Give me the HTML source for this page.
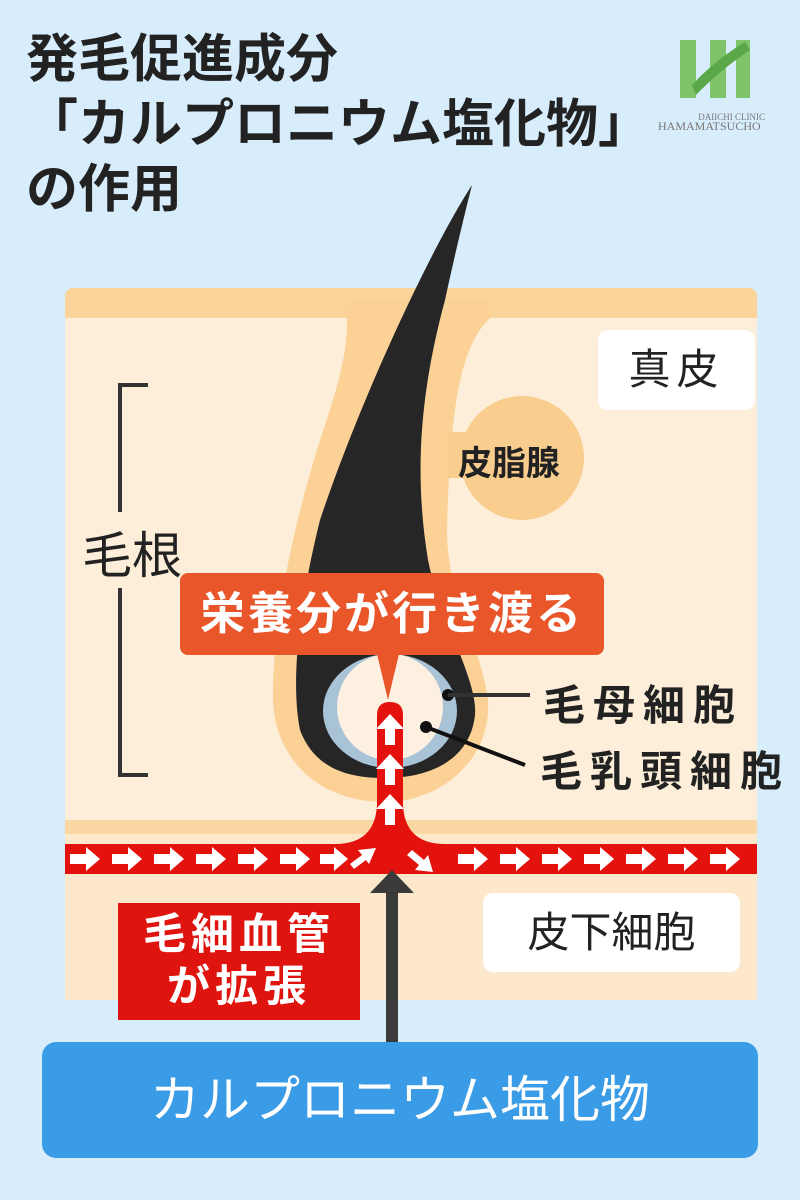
<!DOCTYPE html>
<html><head><meta charset="utf-8"><style>
html,body{margin:0;padding:0}
body{width:800px;height:1200px;background:#d8edfc;position:relative;overflow:hidden;font-family:"Liberation Sans","Noto Sans CJK JP",sans-serif}
.t{position:absolute;left:26px;top:28px;font-size:52px;line-height:65px;font-weight:bold;color:#222}
.abs{position:absolute;white-space:nowrap}
</style></head><body>
<svg class="abs" style="left:0;top:0" width="800" height="1200" viewBox="0 0 800 1200">
 <rect x="65" y="288" width="692" height="712" rx="8" fill="#fbd49a"/>
 <rect x="65" y="318" width="692" height="502" fill="#fdeed9"/>
 <rect x="65" y="832" width="692" height="168" fill="#fde8cc"/>
 <rect x="65" y="820" width="692" height="14" fill="#fbd7a4"/>
 <!-- follicle sheath -->
 <path d="M345 300 L490 300 L490 318 C 462 345, 450 400, 447 530 C 447 600, 480 640, 488 700 C 492 760, 440 802, 385 802 C 320 802, 275 760, 273 700 C 272 620, 295 520, 320 440 C 340 380, 352 340, 345 300 Z" fill="#fbd196"/>
 <circle cx="522" cy="458" r="62" fill="#f8cd8e"/>
 <rect x="447" y="432" width="25" height="46" fill="#f8cd8e"/>
 <!-- hair -->
 <path d="M472 185 C 430 250, 360 400, 320 520 C 300 600, 290 680, 300 730 C 315 770, 350 778, 385 778 C 430 778, 470 760, 475 715 C 478 680, 440 620, 428 560 C 415 480, 418 400, 445 300 Q 458 240 472 185 Z" fill="#262626"/>
 <ellipse cx="390" cy="711" rx="67" ry="57" fill="#a9c3d6"/>
 <ellipse cx="390" cy="707" rx="53" ry="53" fill="#fdf0e0"/>
 <circle cx="448" cy="695" r="6" fill="#111"/><line x1="448" y1="695" x2="530" y2="695" stroke="#333" stroke-width="4"/>
 <circle cx="426" cy="727" r="6" fill="#111"/><line x1="426" y1="727" x2="525" y2="765" stroke="#111" stroke-width="4"/>
 <path d="M148 385 L120 385 L120 775 L148 775" fill="none" stroke="#333" stroke-width="4"/>
 <rect x="80" y="512" width="120" height="76" fill="#fdeed9"/>
 <!-- capillary -->
 <rect x="65" y="844" width="692" height="30" fill="#e3120c"/>
 <path d="M377 715 Q377 702 390 702 Q403 702 403 715 L403 805 Q405 844 445 844 L445 874 Q410 874 390 862 Q370 874 335 874 L335 844 Q375 844 377 805 Z" fill="#e3120c"/>
 <g fill="#fff">
  <path d="M70 854h16v-7l14 12-14 12v-7h-16z M112 854h16v-7l14 12-14 12v-7h-16z M154 854h16v-7l14 12-14 12v-7h-16z M196 854h16v-7l14 12-14 12v-7h-16z M238 854h16v-7l14 12-14 12v-7h-16z M280 854h16v-7l14 12-14 12v-7h-16z M320 854h14v-7l14 12-14 12v-7h-14z"/>
  <path d="M458 854h16v-7l14 12-14 12v-7h-16z M500 854h16v-7l14 12-14 12v-7h-16z M542 854h16v-7l14 12-14 12v-7h-16z M584 854h16v-7l14 12-14 12v-7h-16z M626 854h16v-7l14 12-14 12v-7h-16z M668 854h16v-7l14 12-14 12v-7h-16z M710 854h16v-7l14 12-14 12v-7h-16z"/>
  <path d="M385 745v-16h-9l14-15 14 15h-9v16z M385 785v-16h-9l14-15 14 15h-9v16z M385 825v-16h-9l14-15 14 15h-9v16z"/>
  <path d="M350 864l12-9-4-5 18-2-7 16-3-4-12 9z"/>
  <path d="M412 850l12 10 4-5 5 17-18-2 4-5-12-10z"/>
 </g>
 <rect x="386" y="890" width="12" height="155" fill="#3a3a3a"/>
 <polygon points="370,893 392,870 414,893" fill="#3a3a3a"/>
 <rect x="180" y="573" width="424" height="82" rx="8" fill="#e8562a"/>
 <polygon points="377,654 399,654 388,700" fill="#e8562a"/>
 <!-- logo -->
 <path d="M680 40h16v58h-16z M710 40h16v58h-16z M736 40h14v58h-14z" fill="#7fc46b"/>
 <path d="M692 85 Q715 60 745 42 L750 50 Q720 70 696 95z" fill="#5aa84a"/>
</svg>
<div class="t">発毛促進成分<br>「カルプロニウム塩化物」<br>の作用</div>
<div class="abs" style="left:655px;top:112px;font-family:'Liberation Serif',serif;color:#777;font-size:9px;width:110px;text-align:right">DAIICHI CLINIC</div>
<div class="abs" style="left:658px;top:119px;font-family:'Liberation Serif',serif;color:#777;font-size:12px">HAMAMATSUCHO</div>
<div class="abs" style="left:598px;top:330px;width:157px;height:80px;background:#fff;border-radius:10px;font-size:42px;line-height:80px;text-align:center;color:#222;letter-spacing:6px">真皮</div>
<div class="abs" style="left:458px;top:436px;font-size:34px;font-weight:bold;color:#222">皮脂腺</div>
<div class="abs" style="left:82px;top:516px;font-size:50px;color:#222">毛根</div>
<div class="abs" style="left:180px;top:573px;width:424px;height:82px;line-height:82px;text-align:center;font-size:45px;font-weight:bold;color:#fff;letter-spacing:3px">栄養分が行き渡る</div>
<div class="abs" style="left:543px;top:672px;font-size:42px;font-weight:bold;color:#222;letter-spacing:8px">毛母細胞</div>
<div class="abs" style="left:540px;top:738px;font-size:42px;font-weight:bold;color:#222;letter-spacing:8px">毛乳頭細胞</div>
<div class="abs" style="left:483px;top:893px;width:257px;height:79px;background:#fff;border-radius:10px;font-size:42px;line-height:79px;text-align:center;color:#222">皮下細胞</div>
<div class="abs" style="left:118px;top:903px;width:242px;height:117px;background:#e0140f;color:#fff;font-size:43px;font-weight:bold;line-height:52px;text-align:center;padding-top:6px;box-sizing:border-box;letter-spacing:5px">毛細血管<br>が拡張</div>
<div class="abs" style="left:42px;top:1042px;width:716px;height:116px;background:#3a9be6;border-radius:14px;color:#fff;font-size:50px;line-height:116px;text-align:center">カルプロニウム塩化物</div>
</body></html>
